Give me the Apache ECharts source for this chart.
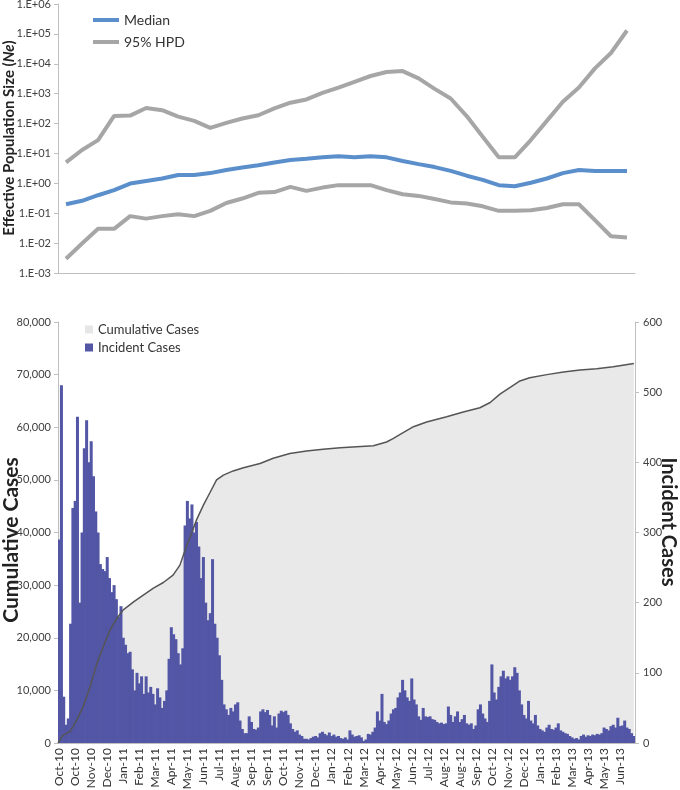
<!DOCTYPE html>
<html><head><meta charset="utf-8">
<script src="https://cdn.jsdelivr.net/npm/echarts@6/dist/echarts.min.js"></script>
<style>html,body{margin:0;padding:0;background:#fff}#c{width:680px;height:790px}</style>
</head><body><div id="c"></div>
<script>
// Bottom chart x tick labels (one every 7 four-day bins = 28 days)
const tickLabels = ['Oct-10','Oct-10','Nov-10','Dec-10','Jan-11','Feb-11','Mar-11','Apr-11','May-11','Jun-11','Jul-11','Aug-11','Sep-11','Sep-11','Oct-11','Nov-11','Dec-11','Jan-12','Feb-12','Mar-12','Apr-12','May-12','Jun-12','Jul-12','Aug-12','Aug-12','Sep-12','Oct-12','Nov-12','Dec-12','Jan-13','Feb-13','Mar-13','Apr-13','May-13','Jun-13'];

// Top chart: effective population size (36 time points)
const neMedian = [0.20,0.26,0.40,0.59,0.98,1.2,1.45,1.9,1.9,2.2,2.8,3.4,4.0,5.0,6.0,6.6,7.4,8.1,7.4,8.1,7.4,5.6,4.4,3.5,2.6,1.8,1.3,0.87,0.80,1.05,1.45,2.2,2.8,2.6,2.6,2.6];
const neUpper = [5.0,13,28,180,185,330,280,170,123,72,105,148,190,320,500,640,1070,1600,2500,3900,5300,5700,3250,1450,690,178,36,7.4,7.4,28,123,540,1600,7000,23000,130000];
const neLower = [0.0030,0.0097,0.030,0.030,0.080,0.066,0.080,0.093,0.080,0.12,0.22,0.31,0.48,0.51,0.76,0.56,0.72,0.87,0.87,0.87,0.59,0.43,0.38,0.30,0.23,0.21,0.17,0.12,0.12,0.125,0.15,0.20,0.20,0.059,0.017,0.0155];

// Bottom chart: incident cases per 4-day bin (252 bins)
const incident = [
290,510,66,26,35,170,335,345,465,200,
300,420,460,400,430,380,330,300,255,248,
245,265,235,215,225,205,180,195,150,140,
128,130,105,75,100,85,95,70,95,72,
80,70,55,78,65,50,60,75,120,165,
155,148,128,112,135,310,345,320,340,300,
315,280,235,265,200,175,185,262,170,150,
125,90,55,48,40,50,45,55,58,32,
20,14,14,38,30,20,19,22,45,48,
44,47,40,25,38,22,42,46,44,46,
40,28,20,16,18,12,10,6,6,5,
7,9,10,8,14,16,13,11,15,10,
12,9,10,7,6,8,5,18,12,9,
10,11,8,3,5,13,12,16,22,45,
32,70,30,27,32,42,48,50,65,72,
90,75,65,60,92,62,55,38,33,50,
38,37,38,34,33,30,28,29,27,28,
52,40,30,38,45,30,34,40,28,26,
28,20,25,48,55,42,35,30,60,112,
72,62,80,95,103,92,95,90,95,108,
100,75,55,40,35,60,32,28,40,25,
20,18,16,22,26,20,19,22,28,18,
16,14,13,10,8,6,7,5,10,12,
9,11,10,12,11,13,12,14,22,20,
18,24,26,22,36,24,25,32,22,20,
14,10];

// Bottom chart: cumulative cases read at day offsets
const cumDays = [0,2,9,21,33,44,56,68,79,91,103,114,132,149,166,184,201,213,219,231,242,254,266,277,289,306,324,353,376,405,434,463,493,522,551,574,586,597,621,644,679,708,737,755,772,790,807,824,854,883,912,941,970,1006];
const cumCases = [0,250,1500,2150,4400,6900,10700,15100,18300,21500,23700,25300,26800,28100,29400,30500,31900,33800,35700,39200,42400,45200,47700,50000,50900,51700,52300,53100,54100,55000,55500,55800,56100,56300,56500,57200,57900,58600,60100,61000,62000,62900,63700,64700,66300,67600,68800,69400,70000,70500,70900,71100,71500,72100];

const FONT = 'Lato';
const chart = echarts.init(document.getElementById('c'));
const binCats = incident.map((_, i) => String(i));
const cumData = cumDays.map((d, i) => [d, cumCases[i]]);
function sci(v) {
  const e = Math.round(Math.log10(v));
  return '1.E' + (e < 0 ? '-' : '+') + String(Math.abs(e)).padStart(2, '0');
}
const axisGray = '#BFBFBF';
const barColor = '#5256A5';
const titleColor = '#222';
const option = {
  animation: false,
  textStyle: { fontFamily: FONT },
  graphic: [
    { type: 'text', x: 9, y: 138, rotation: Math.PI / 2, silent: true,
      style: { text: '{b|Effective Population Size (}{i|Ne}{b|)}', align: 'center', verticalAlign: 'middle',
        rich: {
          b: { fontWeight: 'bold', fontSize: 15, fill: titleColor, fontFamily: FONT },
          i: { fontWeight: 'bold', fontStyle: 'italic', fontSize: 15, fill: titleColor, fontFamily: FONT } } } },
    { type: 'text', x: 11, y: 540, rotation: Math.PI / 2, silent: true,
      style: { text: 'Cumulative Cases', align: 'center', verticalAlign: 'middle',
        fontWeight: 'bold', fontSize: 21, fill: titleColor, fontFamily: FONT } },
    { type: 'text', x: 668, y: 522, rotation: -Math.PI / 2, silent: true,
      style: { text: 'Incident Cases', align: 'center', verticalAlign: 'middle',
        fontWeight: 'bold', fontSize: 20, fill: titleColor, fontFamily: FONT } }
  ],
  legend: [
    { data: ['Median', '95% HPD'], left: 88, top: 8, orient: 'vertical', icon: 'rect',
      itemWidth: 26, itemHeight: 4, itemGap: 8, textStyle: { fontSize: 14, color: '#333', fontFamily: FONT } },
    { data: ['Cumulative Cases', 'Incident Cases'], left: 80, top: 318, orient: 'vertical', icon: 'rect',
      itemWidth: 8, itemHeight: 8, itemGap: 5, textStyle: { fontSize: 13, color: '#333', fontFamily: FONT } }
  ],
  grid: [
    { left: 58, top: 4, width: 577, height: 269, containLabel: false, outerBoundsMode: 'none' },
    { left: 58, top: 322, width: 577, height: 421, containLabel: false, outerBoundsMode: 'none' }
  ],
  xAxis: [
    { gridIndex: 0, type: 'category', data: neMedian.map((_, i) => String(i)), boundaryGap: true,
      axisLine: { lineStyle: { color: axisGray } }, axisTick: { show: false }, axisLabel: { show: false } },
    { gridIndex: 1, type: 'category', data: binCats, boundaryGap: true,
      axisLine: { lineStyle: { color: axisGray } }, axisTick: { show: false },
      axisLabel: { interval: 6, rotate: 90, fontSize: 12, color: '#333', fontFamily: FONT, margin: 5,
        formatter: (v, i) => tickLabels[i / 7] || '' } },
    { gridIndex: 1, type: 'value', min: 0, max: 1008, show: false }
  ],
  yAxis: [
    { gridIndex: 0, type: 'log', logBase: 10, min: 0.001, max: 1e6, splitNumber: 9,
      splitLine: { show: false },
      axisLine: { show: true, lineStyle: { color: axisGray } },
      axisTick: { show: true, length: 4, lineStyle: { color: axisGray } },
      axisLabel: { formatter: sci, fontSize: 11, color: '#404040', fontFamily: FONT, margin: 7 } },
    { gridIndex: 1, type: 'value', min: 0, max: 80000, interval: 10000, splitLine: { show: false },
      axisLine: { show: true, lineStyle: { color: axisGray } },
      axisTick: { show: true, length: 4, lineStyle: { color: axisGray } },
      axisLabel: { fontSize: 11, color: '#404040', fontFamily: FONT, margin: 7,
        formatter: v => v.toLocaleString('en-US') } },
    { gridIndex: 1, type: 'value', min: 0, max: 600, interval: 100, position: 'right', splitLine: { show: false },
      axisLine: { show: true, lineStyle: { color: axisGray } },
      axisTick: { show: true, length: 4, lineStyle: { color: axisGray } },
      axisLabel: { fontSize: 11, color: '#404040', fontFamily: FONT, margin: 8 } }
  ],
  series: [
    { name: 'Median', type: 'line', xAxisIndex: 0, yAxisIndex: 0, data: neMedian, showSymbol: false,
      itemStyle: { color: '#5A8FCB' }, lineStyle: { color: '#5A8FCB', width: 4 }, z: 4 },
    { name: '95% HPD', type: 'line', xAxisIndex: 0, yAxisIndex: 0, data: neUpper, showSymbol: false,
      itemStyle: { color: '#A6A6A6' }, lineStyle: { color: '#A6A6A6', width: 4 }, z: 3 },
    { name: '95% HPD', type: 'line', xAxisIndex: 0, yAxisIndex: 0, data: neLower, showSymbol: false,
      itemStyle: { color: '#A6A6A6' }, lineStyle: { color: '#A6A6A6', width: 4 }, z: 3 },
    { name: 'Cumulative Cases', type: 'line', xAxisIndex: 2, yAxisIndex: 1, data: cumData, showSymbol: false,
      itemStyle: { color: '#E6E6E6' }, lineStyle: { width: 0 }, areaStyle: { color: '#E9E9E9', opacity: 1 }, z: 1 },
    { name: 'Incident Cases', type: 'bar', xAxisIndex: 1, yAxisIndex: 2, data: incident,
      barWidth: 3, barGap: '0%', itemStyle: { color: barColor }, z: 2 },
    { name: 'cumLine', type: 'line', xAxisIndex: 2, yAxisIndex: 1, data: cumData, showSymbol: false,
      lineStyle: { color: '#555555', width: 1.5 }, itemStyle: { color: '#555555' }, z: 5 }
  ]
};
chart.setOption(option);
</script>
</body></html>
